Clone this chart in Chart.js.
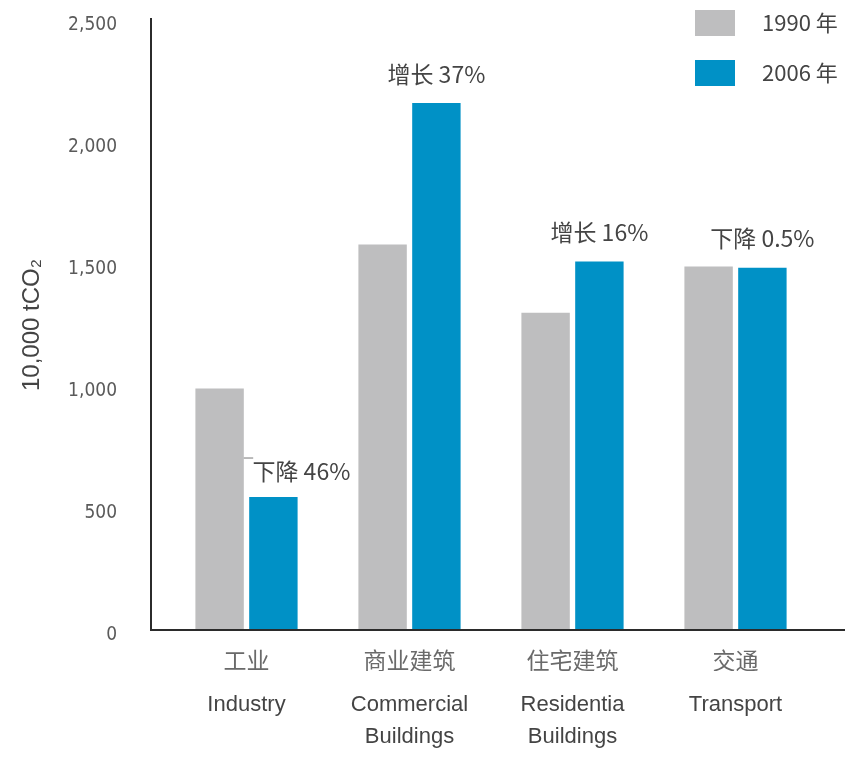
<!DOCTYPE html>
<html>
<head>
<meta charset="utf-8">
<script src="https://cdn.jsdelivr.net/npm/chart.js@4/dist/chart.umd.min.js"></script>
<style>
  html, body { margin: 0; padding: 0; background: #ffffff; }
  #wrap { width: 845px; height: 757px; position: relative; }
</style>
</head>
<body>
<div id="wrap"><canvas id="c"></canvas></div>
<script>
// ---- data ----
const categoriesZh = ["工业", "商业建筑", "住宅建筑", "交通"];
const categoriesEn = ["Industry", ["Commercial", "Buildings"], ["Residentia", "Buildings"], "Transport"];
const seriesNames = ["1990 年", "2006 年"];
const values1990 = [990, 1580, 1300, 1490];
const values2006 = [545, 2160, 1510, 1485];
const changeLabels = ["下降 46%", "增长 37%", "增长 16%", "下降 0.5%"];
const yTicks = [0, 500, 1000, 1500, 2000, 2500];
const yTitle = "10,000 tCO₂";

const colors = ["#bebebf", "#0091c6"];

// custom axis lines (L-shaped frame extending beyond the category area)
const axisLines = {
  id: 'axisLines',
  afterDatasetsDraw(chart) {
    const ctx = chart.ctx;
    const y = chart.scales.y;
    const left = 151;
    const bottom = y.getPixelForValue(0);
    const top = y.getPixelForValue(2500) - 2;
    ctx.save();
    ctx.strokeStyle = '#2b2b2b';
    ctx.lineWidth = 2;
    ctx.beginPath();
    ctx.moveTo(left, top);
    ctx.lineTo(left, bottom);
    ctx.lineTo(chart.width, bottom);
    ctx.stroke();
    ctx.restore();
  }
};

// change annotations above 2006 bars
const changeNotes = {
  id: 'changeNotes',
  afterDatasetsDraw(chart) {
    const ctx = chart.ctx;
    const meta = chart.getDatasetMeta(1);
    const meta0 = chart.getDatasetMeta(0);
    ctx.save();
    ctx.font = "23px 'Noto Sans CJK SC', 'Liberation Sans Narrow', sans-serif";
    ctx.fillStyle = '#444';
    ctx.textBaseline = 'middle';
    ctx.textAlign = 'center';
    meta.data.forEach((el, i) => {
      let dx = 0, dy = -29;
      if (i === 0) {
        dx = 28; dy = -26;
        const g = meta0.data[i];
        ctx.strokeStyle = '#777';
        ctx.lineWidth = 1;
        ctx.beginPath();
        ctx.moveTo(g.x + g.width / 2, el.y + dy - 13);
        ctx.lineTo(el.x - el.width / 2 + 4, el.y + dy - 13);
        ctx.stroke();
      }
      ctx.fillText(changeLabels[i], el.x + dx, el.y + dy);
    });
    ctx.restore();
  }
};

// vertical legend at top right
const sideLegend = {
  id: 'sideLegend',
  afterDraw(chart) {
    const ctx = chart.ctx;
    ctx.save();
    ctx.font = "22px 'Noto Sans CJK SC', 'Liberation Sans Narrow', sans-serif";
    ctx.textBaseline = 'middle';
    ctx.textAlign = 'left';
    seriesNames.forEach((name, i) => {
      const y0 = 10 + i * 50;
      ctx.fillStyle = colors[i];
      ctx.fillRect(695, y0, 40, 26);
      ctx.fillStyle = '#444';
      ctx.fillText(name, 762, y0 + 13);
    });
    ctx.restore();
  }
};

new Chart(document.getElementById('c'), {
  type: 'bar',
  data: {
    labels: categoriesZh,
    datasets: [
      { label: seriesNames[0], data: values1990, backgroundColor: colors[0], xAxisID: 'x' },
      { label: seriesNames[1], data: values2006, backgroundColor: colors[1], xAxisID: 'x' }
    ]
  },
  options: {
    responsive: true,
    maintainAspectRatio: false,
    animation: false,
    devicePixelRatio: 1,
    categoryPercentage: 0.66,
    barPercentage: 0.9,
    layout: { padding: { top: 20, right: 28, bottom: 0, left: 0 } },
    plugins: {
      legend: { display: false },
      tooltip: { enabled: false }
    },
    scales: {
      x: {
        type: 'category',
        position: 'bottom',
        offset: true,
        afterFit(scale) { scale.height = 41; },
        grid: { display: false, drawTicks: false },
        border: { display: false },
        ticks: {
          autoSkip: false, maxRotation: 0, padding: 17,
          color: '#6a6a6a',
          font: { family: "'Noto Sans CJK SC', sans-serif", size: 23, lineHeight: 1.15 }
        }
      },
      x2: {
        type: 'category',
        position: 'bottom',
        labels: categoriesEn,
        offset: true,
        afterFit(scale) { scale.height = 86; },
        grid: { display: false, drawTicks: false },
        border: { display: false },
        ticks: {
          autoSkip: false, maxRotation: 0, padding: 18,
          color: '#444',
          font: { family: "'Liberation Sans', Arial, sans-serif", size: 22, lineHeight: 1.45 }
        }
      },
      y: {
        min: 0, max: 2500,
        afterBuildTicks(scale) { scale.ticks = yTicks.map(v => ({ value: v })); },
        afterFit(scale) { scale.width = 165; scale.paddingTop = 0; scale.paddingBottom = 0; },
        grid: { display: false, drawTicks: false },
        border: { display: false },
        ticks: {
          padding: 48,
          labelOffset: 5,
          color: '#5a5a5a',
          font: { family: "'Liberation Sans Narrow', 'DejaVu Sans Condensed', sans-serif", size: 19 },
          callback: (v) => v.toLocaleString('en-US')
        },
        title: {
          display: true,
          text: yTitle,
          color: '#444',
          padding: { top: 18, bottom: 0 },
          font: { family: "'Liberation Sans', Arial, sans-serif", size: 24 }
        }
      }
    }
  },
  plugins: [axisLines, changeNotes, sideLegend]
});
</script>
</body>
</html>
